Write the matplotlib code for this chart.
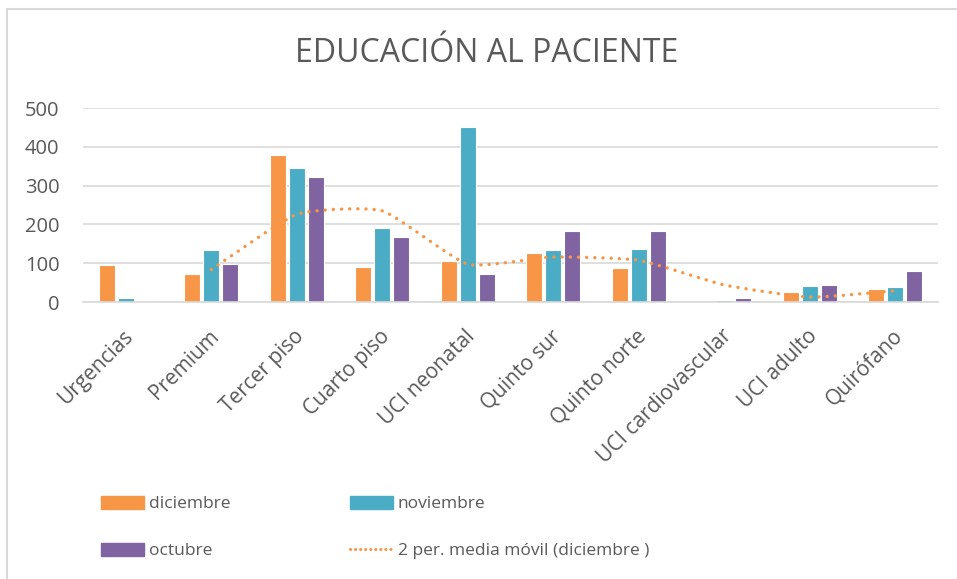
#!/usr/bin/env python3
"""Educación al paciente: barras por servicio (oct-dic) + media móvil de diciembre."""

import numpy as np
import pandas as pd
import matplotlib
matplotlib.use("Agg")
import matplotlib.pyplot as plt
from matplotlib.path import Path
from matplotlib.patches import PathPatch, Rectangle, Patch
from matplotlib.lines import Line2D
from matplotlib.transforms import ScaledTranslation

# ── data ──────────────────────────────────────────────────────────────────
servicios = ["Urgencias", "Premium", "Tercer piso", "Cuarto piso", "UCI neonatal",
             "Quinto sur", "Quinto norte", "UCI cardiovascular", "UCI adulto",
             "Quirófano"]
diciembre = [95, 72, 380, 90, 105, 127, 88, 0, 25, 33]
noviembre = [10, 133, 345, 190, 450, 133, 136, 4, 42, 38]
octubre = [3, 97, 323, 168, 73, 183, 182, 11, 45, 80]
y_ticks = [0, 100, 200, 300, 400, 500]

titulo = "EDUCACIÓN AL PACIENTE"
etiqueta_mm = "2 per. media móvil (diciembre )"

# ── style ─────────────────────────────────────────────────────────────────
C_DIC, C_NOV, C_OCT = "#F79646", "#4BACC6", "#8064A2"
GRID = "#D9D9D9"
TXT = "#595959"
plt.rcParams["font.family"] = ["Open Sans", "DejaVu Sans"]

W, H, DPI = 957, 579, 100
fig = plt.figure(figsize=(W / DPI, H / DPI), dpi=DPI)

# chart border (cut off at right/bottom like the screenshot)
fig.patches.append(Rectangle((7 / W, -0.1), 1.2, 1 - 9 / H + 0.1,
                             transform=fig.transFigure, fill=False,
                             edgecolor=GRID, linewidth=1.5))

ax = fig.add_axes([83 / W, 1 - 302 / H, (938 - 83) / W, (302 - 108) / H])

x = np.arange(len(servicios))
off, bw = 0.222, 0.19
ax.bar(x - off, diciembre, bw, color=C_DIC, edgecolor="white", linewidth=0.8, zorder=2)
ax.bar(x, noviembre, bw, color=C_NOV, edgecolor="white", linewidth=0.8, zorder=2)
ax.bar(x + off, octubre, bw, color=C_OCT, edgecolor="white", linewidth=0.8, zorder=2)

# 2-period moving average of diciembre, smoothed bezier like Excel
mm = pd.Series(diciembre, dtype=float).rolling(2).mean()
pts = np.column_stack([x[1:].astype(float), mm.values[1:]])
tension = 1 / 12
verts, codes = [tuple(pts[0])], [Path.MOVETO]
n = len(pts)
for i in range(n - 1):
    p0 = pts[i - 1] if i > 0 else pts[i]
    p1, p2 = pts[i], pts[i + 1]
    p3 = pts[i + 2] if i + 2 < n else pts[i + 1]
    c1 = p1 + (p2 - p0) * tension
    c2 = p2 - (p3 - p1) * tension
    verts += [tuple(c1), tuple(c2), tuple(p2)]
    codes += [Path.CURVE4] * 3
ax.add_patch(PathPatch(Path(verts, codes), fill=False, edgecolor=C_DIC,
                       linewidth=2.4, linestyle=(0, (0.05, 2.4)),
                       capstyle="round", zorder=3))

# axes cosmetics
ax.set_xlim(-0.5, len(servicios) - 0.5)
ax.set_ylim(0, 500)
ax.set_yticks(y_ticks)
ax.yaxis.grid(True, color=GRID, linewidth=1.2, zorder=0)
ax.set_axisbelow(True)
for s in ["top", "right", "left"]:
    ax.spines[s].set_visible(False)
ax.spines["bottom"].set_color(GRID)
ax.spines["bottom"].set_linewidth(1.2)
ax.tick_params(length=0, colors=TXT, labelsize=14.5)
ax.tick_params(axis="y", pad=17)
ax.set_xticks(x)
ax.set_xticklabels(servicios, rotation=45, ha="right", va="top",
                   rotation_mode="anchor", fontsize=15, color=TXT)
ax.tick_params(axis="x", pad=17)
shift = ScaledTranslation(-3 / DPI, 0, fig.dpi_scale_trans)
for lab in ax.get_xticklabels():
    lab.set_transform(lab.get_transform() + shift)

fig.text(487 / W, 1 - 53 / H, titulo, ha="center", va="center",
         fontsize=23, color=TXT)

# legend
handles = [Patch(color=C_DIC), Patch(color=C_OCT), Patch(color=C_NOV),
           Line2D([], [], color=C_DIC, linewidth=2.2,
                  linestyle=(0, (0.05, 1.6)), dash_capstyle="round")]
labels = ["diciembre", "octubre", "noviembre", etiqueta_mm]
fig.legend(handles, labels, ncol=2, loc="upper left",
           bbox_to_anchor=(101 / W, 1 - 496 / H), frameon=False,
           fontsize=12.5, labelcolor=TXT, handlelength=2.45, handleheight=0.75,
           handletextpad=0.3, columnspacing=6.9, labelspacing=1.75,
           borderaxespad=0, borderpad=0)

fig.savefig("out.png", dpi=DPI)
